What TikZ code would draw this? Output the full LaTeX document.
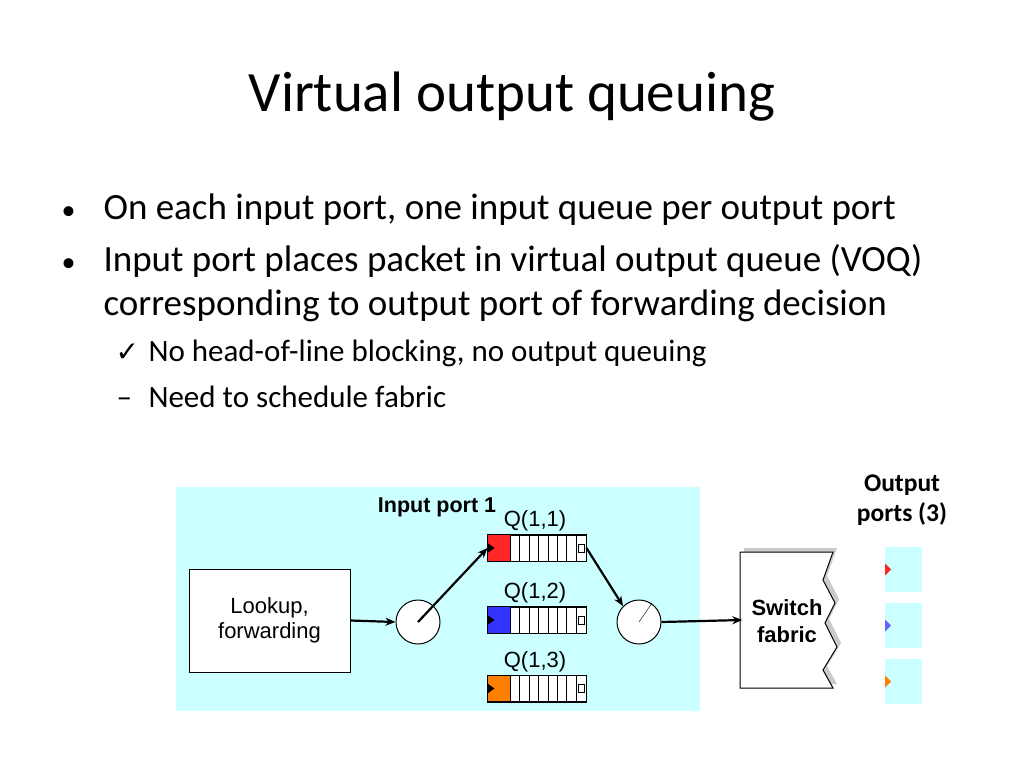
\documentclass[tikz,border=0pt]{standalone}
\usepackage{fontspec}
\setmainfont{Carlito}
\newfontfamily\hv{Liberation Sans}
\usetikzlibrary{arrows.meta,shadows,calc}
\definecolor{cy}{HTML}{CCFFFF}
\begin{document}
\begin{tikzpicture}[x=1pt,y=-1pt,
  arr/.style={-{Stealth[length=10pt,width=8pt]},line width=2.2pt},
  q/.style={draw,line width=1pt,fill=white,minimum width=98pt,minimum height=26pt,inner sep=0},
  lab/.style={font=\hv\fontsize{22}{25}\selectfont},
  circ/.style={circle,draw,line width=1pt,fill=white,minimum size=44pt,inner sep=0},
  port/.style={fill=cy,minimum width=37pt,minimum height=45pt,inner sep=0}]
\useasboundingbox (0,0) rectangle (1024,768);
\node[font=\fontsize{57}{57}\selectfont] (title) at (512,97) {Virtual output queuing};
\begin{scope}[font=\fontsize{37}{37}\selectfont]
\node[anchor=base west,font=\fontsize{28}{28}\selectfont] (b1) at (58,219) {•};
\node[anchor=base west] (t1) at (100,219) {On each input port, one input queue per output port};
\node[anchor=base west,font=\fontsize{28}{28}\selectfont] (b2) at (58,271) {•};
\node[anchor=base west] (t2) at (100,271) {Input port places packet in virtual output queue (VOQ)};
\node[anchor=base west] (t3) at (100,315) {corresponding to output port of forwarding decision};
\end{scope}
\begin{scope}[font=\fontsize{31}{31}\selectfont]
\node[anchor=base west] (c1) at (112,361) {\fontspec{DejaVu Sans}\bfseries\fontsize{28}{28}\selectfont ✓};
\node[anchor=base west] (s1) at (145,361) {No head-of-line blocking, no output queuing};
\node[anchor=base west] (c2) at (113,407) {–};
\node[anchor=base west] (s2) at (145,407) {Need to schedule fabric};
\end{scope}
\fill[cy] (176,487) rectangle (700,711);
\node[draw,fill=white,line width=1pt,minimum width=161pt,minimum height=103pt,align=center,lab] (lk) at (269.5,620.5) {Lookup,\\forwarding};
\node[font=\hv\bfseries\fontsize{21.5}{21.5}\selectfont] (ip) at (437,507) {Input port 1};
\node[circ] (c1n) at (418,622) {};
\node[circ] (c2n) at (639,622) {};
\draw (c2n.center) -- (652,603);
\foreach \i/\y/\col in {1/548/red!85,2/620/blue!80,3/688.5/orange} {
  \node[q] (q\i) at (537,\y) {};
  \fill[\col] (q\i.north west) rectangle ++(23,26);
  \draw[line width=1pt] (q\i.north west) rectangle (q\i.south east);
  \foreach \k in {0,...,7} \draw[line width=1pt] ($(q\i.north west)+(23+\k*9.4,0)$) -- ++(0,26);
  \draw ($(q\i.east)+(-8,-4)$) rectangle ++(6,8);
  \fill ($(q\i.west)+(0,-5)$) -- ++(7,5) -- ++(-7,5) -- cycle;
  \node[lab] (ql\i) at (535,\y-27) {Q(1,\i)};
}
\draw[arr] (lk.east) -- (c1n.west);
\draw[arr] (c1n.center) -- (q1.west);
\draw[arr] (q1.east) -- (c2n.north west);
\node[minimum width=85pt,minimum height=136pt,inner sep=0] (sw) at (785,620) {};
\fill[black!35,opacity=0.6,xshift=4pt,yshift=4pt] (740,552) -- (833,552) -- (823,580) -- (835,603) -- (825,623) -- (837,647) -- (823,670) -- (833,688) -- (740,688) -- cycle;
\draw[fill=white,line width=1pt] (740,552) -- (833,552) -- (823,580) -- (835,603) -- (825,623) -- (837,647) -- (823,670) -- (833,688) -- (740,688) -- cycle;
\node[align=center,font=\hv\bfseries\fontsize{22}{27}\selectfont] (swl) at (787,621) {Switch\\fabric};
\draw[arr] (c2n.east) -- (sw.west);
\node[align=center,font=\bfseries\fontsize{25.5}{30}\selectfont] (op) at (902,500) {Output\\ports (3)};
\foreach \i/\y/\col in {1/569.5/red!85,2/625.5/blue!60,3/681.5/orange} {
  \node[port] (p\i) at (903.5,\y) {};
  \fill[\col] (885,\y-6) -- ++(6,6) -- ++(-6,6) -- cycle;
}
\end{tikzpicture}
\end{document}
